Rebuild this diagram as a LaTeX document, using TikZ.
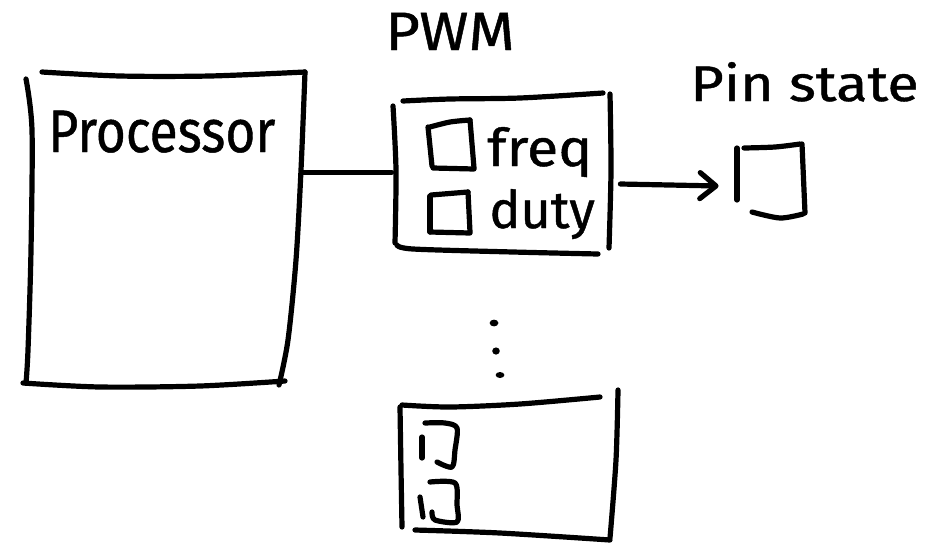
\documentclass[tikz,border=0pt]{standalone}
\usepackage{fontspec}
\setmainfont{Fira Sans}
\newfontfamily\handfont[FakeBold=0.8]{Fira Sans}
\usetikzlibrary{arrows.meta}

\begin{document}
\begin{tikzpicture}[
  x=0.5pt, y=-0.5pt,
  ink/.style={line width=2.6pt, line cap=round, line join=round},
  region/.style={draw=none, inner sep=0pt, rectangle},
  hand/.style={inner sep=0pt, anchor=base west, font=\handfont},
  dot/.style={fill=black, draw=none},
]
\useasboundingbox (0,0) rectangle (946,542);

% invisible regions that the connectors attach to
\node[region, minimum width=139pt, minimum height=155.5pt] (proc) at (164,227.5) {};
\node[region, minimum width=107.5pt, minimum height=77.5pt] (pwm) at (502.5,172.5) {};
\node[region, minimum width=34pt, minimum height=35.5pt] (pin) at (771,181) {};
\node[region, minimum width=109pt, minimum height=70.5pt] (pwmn) at (509,467.5) {};

% processor outline
\draw[ink] plot[smooth] coordinates {(42,72) (120,76) (210,76) (305,72)};
\draw[ink] plot[smooth] coordinates {(26,79) (32,130) (31,250) (28,350) (26,383)};
\draw[ink] plot[smooth] coordinates {(305,72) (301,170) (296,260) (288,340) (279,385)};
\draw[ink] plot[smooth] coordinates {(23,383) (100,387) (200,386) (285,381)};
\node[hand] (proctext) at (48,152) {\fontsize{30}{30}\selectfont\scalebox{0.86}[1]{Processor}};

% PWM block with its two registers
\node[hand] (pwmtitle) at (385,50) {\fontsize{27}{27}\selectfont\scalebox{1.1}[1]{PWM}};
\draw[ink] plot[smooth] coordinates {(393,106) (396,170) (395,243)};
\draw[ink] plot[smooth] coordinates {(403,101) (450,99) (520,98) (603,93)};
\draw[ink] plot[smooth] coordinates {(610,94) (611,170) (609,248)};
\draw[ink] plot[smooth] coordinates {(397,245) (413,249) (513,252) (598,254)};

\draw[ink] (428,127) -- (432,166);
\draw[ink] plot[smooth] coordinates {(430,127) (450,122) (470,120)};
\draw[ink] (470,120) -- (474,168);
\draw[ink] (433,168) -- (474,169);
\node[hand] (freqt) at (487,166) {\fontsize{26}{26}\selectfont\scalebox{1.1}[1]{freq}};

\draw[ink] (430,196) -- (430,232);
\draw[ink] (431,195) -- (468,192);
\draw[ink] (468,192) -- (470,232);
\draw[ink] (430,232) -- (470,233);
\node[hand] (dutyt) at (489,228) {\fontsize{26}{26}\selectfont duty};

% pin state register
\node[hand] (pintitle) at (690,101) {\fontsize{25}{25}\selectfont\scalebox{1.15}[1]{Pin state}};
\draw[ink] (737,148) -- (737,200);
\draw[ink] plot[smooth] coordinates {(744,148) (775,147) (800,144)};
\draw[ink] (802,144) -- (805,213);
\draw[ink] plot[smooth] coordinates {(752,212) (780,218) (803,214)};

% connectors
\draw[ink, shorten >=1.5pt] (proc.east |- pwm.west) -- (pwm.west);
\draw[ink, -{Straight Barb[length=8pt, width=13pt, round]}]
  ([xshift=5pt, yshift=-1.5pt]pwm.east |- pin.west) -- ([xshift=-9pt, yshift=-2.5pt]pin.west);

% further PWM channels
\fill[dot] (494,323) ellipse (2.2pt and 1.7pt);
\fill[dot] (496,351) ellipse (1.9pt and 1.8pt);
\fill[dot] (500,375) ellipse (2.2pt and 1.5pt);

\draw[ink] plot[smooth] coordinates {(402,405) (450,407) (520,404) (600,397)};
\draw[ink] plot[smooth] coordinates {(400,407) (401,470) (402,527)};
\draw[ink] plot[smooth] coordinates {(618,390) (616,460) (610,538)};
\draw[ink] plot[smooth] coordinates {(415,530) (500,533) (610,540)};

\draw[ink] (422,437) -- (422,458);
\draw[ink] plot[smooth] coordinates {(425,423) (445,423) (457,428) (455,450) (452,467) (437,462)};
\draw[ink] (420,497) -- (423,517);
\draw[ink] plot[smooth] coordinates {(430,482) (455,483) (457,505) (457,522) (435,520) (432,512)};
\end{tikzpicture}
\end{document}
